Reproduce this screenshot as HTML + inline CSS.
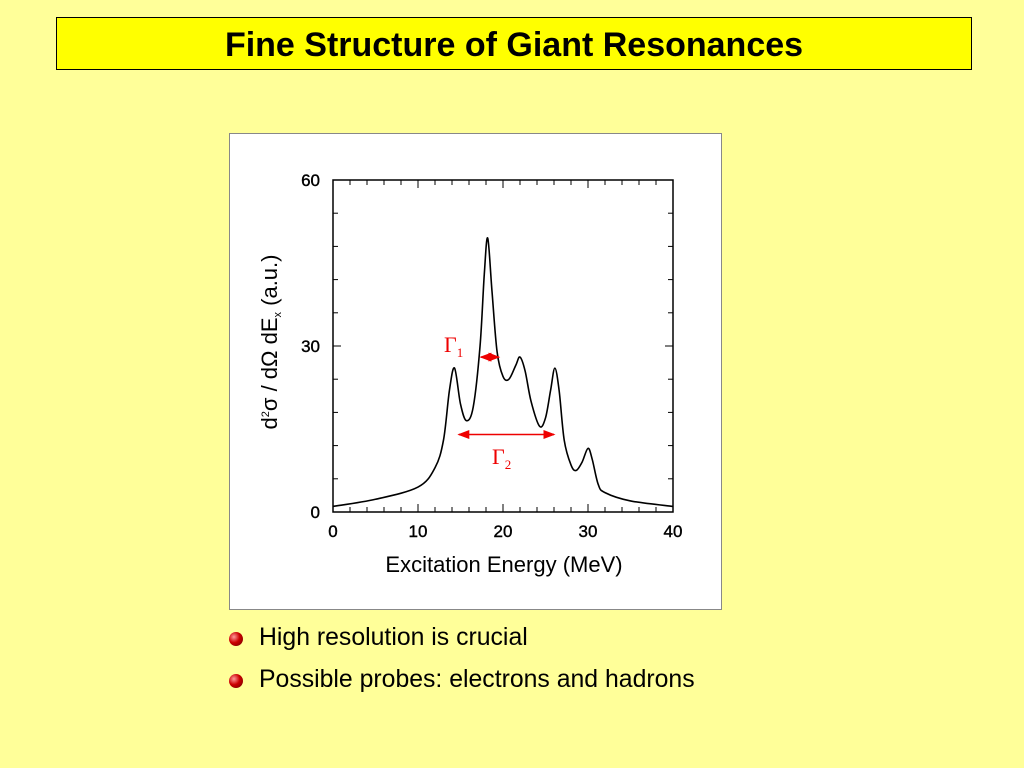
<!DOCTYPE html>
<html><head><meta charset="utf-8"><style>
body{margin:0;width:1024px;height:768px;background:#ffff99;position:relative;overflow:hidden;font-family:"Liberation Sans",sans-serif}
#title{position:absolute;left:56px;top:17px;width:914px;height:51px;background:#ffff00;border:1px solid #000;text-align:center;font-weight:bold;font-size:34px;line-height:54px}
#panel{position:absolute;left:229px;top:133px;width:491px;height:475px;background:#fff;border:1px solid #888}
.bul{position:absolute;left:259px;font-size:24.8px}
.dot{position:absolute;left:229px;width:14px;height:14px;border-radius:50%;background:radial-gradient(circle at 35% 35%,#f99,#c00 45%,#600)}
</style></head><body>
<div id="title">Fine Structure of Giant Resonances</div>
<div id="panel"></div>
<svg id="chart" width="1024" height="768" style="position:absolute;left:0;top:0"></svg>
<div class="dot" style="top:632px"></div>
<div class="bul" style="top:624px">High resolution is crucial</div>
<div class="dot" style="top:674px"></div>
<div class="bul" style="top:666px">Possible probes: electrons and hadrons</div>
<script>
const energies=[0,5,10,12,13,13.7,14.3,15,15.7,16.5,17.3,17.8,18.2,18.7,19.3,20,20.7,21.5,22,22.6,23.3,24.3,25,25.6,26.1,26.6,27.2,28,28.6,29.3,30,30.5,31.2,32,35,40];
const xsec=[1,2.3,4.5,8,13,22,26,19.5,16.5,19,30,43,49.5,40,29,24.5,24,26.5,28,25.5,20,15.5,17,22,26,22,13,8.5,7.5,9,11.5,9.5,5,3.5,2,1];
const xTicks=[0,10,20,30,40];
const yTicks=[0,30,60];
const NS="http://www.w3.org/2000/svg";
const svg=document.getElementById('chart');
const L=333,R=673,T=180,B=512;
const sx=v=>L+(v/40)*(R-L), sy=v=>B-(v/60)*(B-T);
function mk(t,a,txt){const e=document.createElementNS(NS,t);for(const k in a)e.setAttribute(k,a[k]);if(txt!==undefined)e.textContent=txt;svg.appendChild(e);return e;}
const fr=mk('rect',{x:L,y:T,width:R-L,height:B-T,fill:'none',stroke:'#000','stroke-width':1.5});


for(let v=0;v<=40;v+=2){const len=v%10==0?8:5;
mk('line',{x1:sx(v),x2:sx(v),y1:B,y2:B-len,stroke:'#000'});mk('line',{x1:sx(v),x2:sx(v),y1:T,y2:T+len,stroke:'#000'});}
for(let v=0;v<=60;v+=6){const len=v%30==0?8:5;
mk('line',{x1:L,x2:L+len,y1:sy(v),y2:sy(v),stroke:'#000'});mk('line',{x1:R,x2:R-len,y1:sy(v),y2:sy(v),stroke:'#000'});}
xTicks.forEach(v=>{const t=mk('text',{x:sx(v),y:537,'text-anchor':'middle','font-size':17,stroke:'#000','stroke-width':0.4},v);

});
yTicks.forEach(v=>{const t=mk('text',{x:320,y:sy(v)+6,'text-anchor':'end','font-size':17,stroke:'#000','stroke-width':0.4},v);

});
const xt=mk('text',{x:504,y:572,'text-anchor':'middle','font-size':22},'Excitation Energy (MeV)');


const yt=mk('text',{transform:'translate(277,342) rotate(-90)','text-anchor':'middle','font-size':22});
yt.innerHTML='d<tspan font-size="11" dy="-8">2</tspan><tspan dy="8">σ / dΩ dE</tspan><tspan font-size="11" dy="4">x</tspan><tspan dy="-4">   (a.u.)</tspan>';


const P=energies.map((e,i)=>[sx(e),sy(xsec[i])]);
let d='M'+P[0][0]+','+P[0][1];
for(let i=0;i<P.length-1;i++){const p0=P[Math.max(0,i-1)],p1=P[i],p2=P[i+1],p3=P[Math.min(P.length-1,i+2)];
d+=` C${p1[0]+(p2[0]-p0[0])/6},${p1[1]+(p2[1]-p0[1])/6} ${p2[0]-(p3[0]-p1[0])/6},${p2[1]-(p3[1]-p1[1])/6} ${p2[0]},${p2[1]}`;}
const cv=mk('path',{d:d,fill:'none',stroke:'#000','stroke-width':1.6});


mk('defs',{}).innerHTML='<marker id="ah" markerWidth="8" markerHeight="8" refX="7" refY="4" orient="auto-start-reverse"><path d="M0,1 L8,4 L0,7z" fill="#e00"/></marker>';
const a1=mk('line',{x1:sx(17.4),x2:sx(19.5),y1:sy(28),y2:sy(28),stroke:'#e00','stroke-width':1.5,'marker-start':'url(#ah)','marker-end':'url(#ah)'});


const a2=mk('line',{x1:sx(14.8),x2:sx(26),y1:sy(14),y2:sy(14),stroke:'#e00','stroke-width':1.5,'marker-start':'url(#ah)','marker-end':'url(#ah)'});


const g1=mk('text',{x:444,y:352,fill:'#e00','font-size':22,'font-family':'Liberation Serif,serif'});
g1.innerHTML='Γ<tspan font-size="13" dy="5">1</tspan>';


const g2=mk('text',{x:492,y:464,fill:'#e00','font-size':22,'font-family':'Liberation Serif,serif'});
g2.innerHTML='Γ<tspan font-size="13" dy="5">2</tspan>';


</script>
</body></html>
